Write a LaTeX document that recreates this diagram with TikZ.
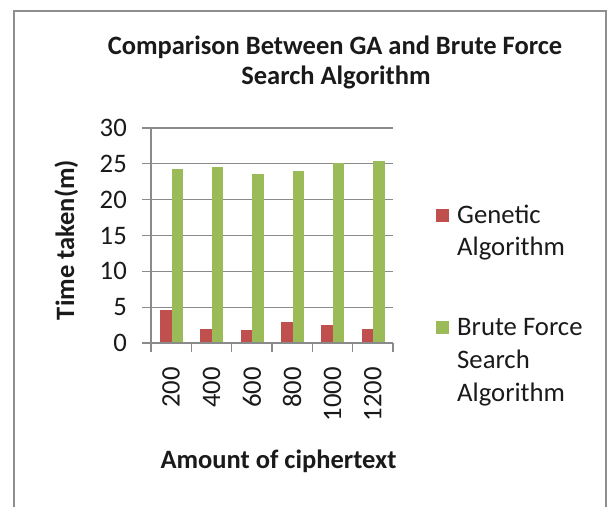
\documentclass[tikz,border=0pt]{standalone}
\usepackage{fontspec}
\setmainfont{Carlito}
\definecolor{gaRed}{HTML}{C0504D}
\definecolor{bfGreen}{HTML}{9BBB59}
\definecolor{gridGray}{HTML}{8A8A8A}
\definecolor{frameGray}{HTML}{8E8E8E}
\definecolor{inkText}{HTML}{1A1A1A}
\tikzset{
  chartfont/.style={font=\fontsize{26.7}{32}\selectfont, text=inkText, inner sep=0pt},
  boldfont/.style={font=\bfseries\fontsize{26.5}{32}\selectfont, text=inkText, inner sep=0pt},
  gridline/.style={draw=gridGray, line width=1.3pt},
  swatch/.style={minimum width=13pt, minimum height=13pt, inner sep=0pt, draw=none}
}
\begin{document}
\begin{tikzpicture}[x=1pt, y=-1pt]
\useasboundingbox (0,0) rectangle (609,506);
\fill[white] (0,0) rectangle (609,506);

% chart frame (open at the bottom edge of the page)
\draw[frameGray, line width=2pt] (14,520) -- (14,11) -- (606,11) -- (606,520);

% title
\node[boldfont, anchor=base] (title1) at (335,54) {Comparison Between GA and Brute Force};
\node[boldfont, anchor=base] (title2) at (336,84) {Search Algorithm};

% plot geometry: y = 343 - 7.167*value, categories 40.33 wide from x = 151
\def\yzero{343}
\def\yunit{7.167}
\def\cw{40.333}

% horizontal gridlines and value labels
\foreach \v in {0,5,...,30} {
  \draw[gridline] (142,{\yzero-\yunit*\v}) -- (393,{\yzero-\yunit*\v});
  \node[chartfont, anchor=east] (ylab\v) at (127,{\yzero-\yunit*\v}) {\v};
}
% value axis
\draw[gridline] (151,{\yzero-\yunit*30}) -- (151,\yzero);
% category ticks
\foreach \k in {0,...,6} {
  \draw[gridline] ({151+\cw*\k},\yzero) -- ({151+\cw*\k},352);
}

% bars
\foreach \i/\g/\b/\c in {0/4.6/24.3/200, 1/2.0/24.6/400, 2/1.8/23.6/600, 3/3.0/24.0/800, 4/2.55/25.1/1000, 5/2.0/25.4/1200} {
  \fill[gaRed]   ({151+\cw*\i+9},\yzero) rectangle ({151+\cw*\i+20.5},{\yzero-\yunit*\g});
  \fill[bfGreen] ({151+\cw*\i+20.5},\yzero) rectangle ({151+\cw*\i+32},{\yzero-\yunit*\b});
  \node[chartfont, rotate=90, anchor=east] (xlab\i) at ({151+\cw*(\i+0.5)},367) {\c};
}
% redraw the baseline over the bar feet
\draw[gridline] (142,\yzero) -- (393,\yzero);

% axis titles
\node[boldfont, rotate=90, anchor=base] (ytitle) at (74,240) {Time taken(m)};
\node[boldfont, anchor=base] (xtitle) at (278.5,468) {Amount of ciphertext};

% legend
\node[swatch, fill=gaRed, anchor=north west] (keyga) at (436,209) {};
\node[chartfont, anchor=base west] (legga1) at (457,223) {Genetic};
\node[chartfont, anchor=base west] (legga2) at (457,255) {Algorithm};
\node[swatch, fill=bfGreen, anchor=north west] (keybf) at (436,321) {};
\node[chartfont, anchor=base west] (legbf1) at (457,335) {Brute Force};
\node[chartfont, anchor=base west] (legbf2) at (457,368) {Search};
\node[chartfont, anchor=base west] (legbf3) at (457,401) {Algorithm};
\end{tikzpicture}
\end{document}
